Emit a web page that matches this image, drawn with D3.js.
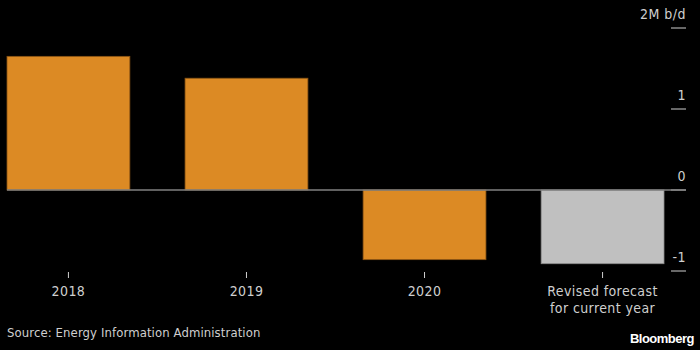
<!DOCTYPE html>
<html>
<head>
<meta charset="utf-8">
<script src="https://cdn.jsdelivr.net/npm/d3@7"></script>
<style>
  body { margin: 0; background: #000; }
  svg { display: block; }
  text { font-family: "DejaVu Sans Condensed", "DejaVu Sans", sans-serif; }
</style>
</head>
<body>
<svg id="chart"></svg>
<script>
const categories = ["2018", "2019", "2020", "Revised forecast\nfor current year"]
const values = [1.65, 1.38, -0.86, -0.91]
const barColors = ["#dc8a24", "#dc8a24", "#dc8a24", "#c0c0c0"]
const yTicks = [2, 1, 0, -1]
const yTickLabels = ["2M b/d", "1", "0", "-1"]

const width = 700, height = 350
const svg = d3.select("#chart").attr("width", width).attr("height", height)
svg.append("rect").attr("width", width).attr("height", height).attr("fill", "#000")

const x = d3.scaleBand().domain(categories).range([7, 664]).paddingInner(0.31).paddingOuter(0)
const y = d3.scaleLinear().domain([-1, 2]).range([271, 28])

// y axis labels sit above short underline ticks on the right
const yg = svg.append("g")
yTicks.forEach((t, i) => {
    yg.append("line")
        .attr("x1", 671).attr("x2", 686)
        .attr("y1", y(t)).attr("y2", y(t))
        .attr("stroke", "#cfcfcf").attr("stroke-width", 1)
    yg.append("text")
        .attr("x", 686).attr("y", y(t) - 9)
        .attr("text-anchor", "end")
        .attr("fill", "#cfcfcf")
        .attr("font-size", 14)
        .style("letter-spacing", "0.5px")
        .text(yTickLabels[i])
})

// bars
svg.selectAll("rect.bar")
    .data(values)
    .enter()
    .append("rect")
    .attr("class", "bar")
    .attr("x", (d, i) => x(categories[i]))
    .attr("width", x.bandwidth())
    .attr("y", d => y(Math.max(0, d)))
    .attr("height", d => Math.abs(y(d) - y(0)))
    .attr("fill", (d, i) => barColors[i])
    .attr("stroke", (d, i) => i < 3 ? "#8a5414" : "#8a8a8a")
    .attr("stroke-width", 0.8)

// zero line
svg.append("line")
    .attr("x1", 7).attr("x2", 686)
    .attr("y1", y(0)).attr("y2", y(0))
    .attr("stroke", "#808080").attr("stroke-width", 1.5)

// x ticks and labels
categories.forEach(c => {
    const cx = x(c) + x.bandwidth() / 2
    svg.append("line")
        .attr("x1", cx).attr("x2", cx)
        .attr("y1", 272).attr("y2", 278)
        .attr("stroke", "#cfcfcf")
    c.split("\n").forEach((l, j) => {
        svg.append("text")
            .attr("x", cx).attr("y", 296 + j * 17)
            .attr("text-anchor", "middle")
            .attr("fill", "#cfcfcf")
            .attr("font-size", 14)
            .style("letter-spacing", "0.4px")
            .text(l)
    })
})

svg.append("text")
    .attr("x", 7).attr("y", 337)
    .attr("fill", "#cfcfcf")
    .attr("font-size", 13)
    .style("letter-spacing", "0.1px")
    .text("Source: Energy Information Administration")

svg.append("text")
    .attr("x", 694).attr("y", 343)
    .attr("text-anchor", "end")
    .attr("fill", "#fff")
    .attr("font-size", 13)
    .attr("font-weight", "bold")
    .style("font-family", "'Liberation Sans', Arial, sans-serif")
    .style("letter-spacing", "-0.5px")
    .text("Bloomberg")
</script>
</body>
</html>
